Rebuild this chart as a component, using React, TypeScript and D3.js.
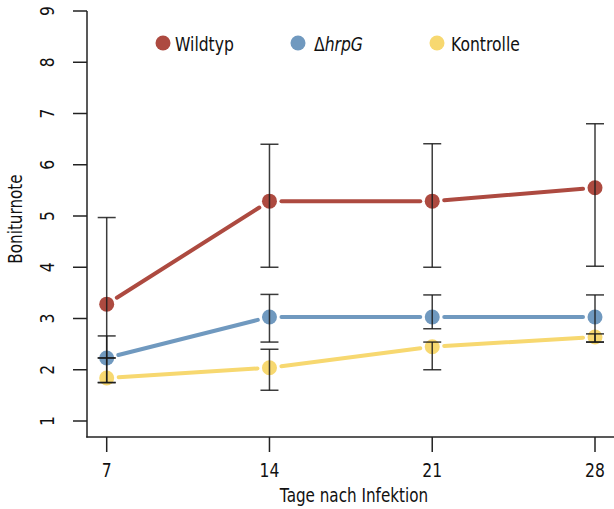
import React from "react";
import * as d3 from "d3";

const days = [7, 14, 21, 28];
const yTicks = [1, 2, 3, 4, 5, 6, 7, 8, 9];
const seriesNames = ["Wildtyp", "ΔhrpG", "Kontrolle"];
const seriesColors = ["#ad4a40", "#7099bf", "#f7d870"];
const wildtypMean = [3.28, 5.29, 5.29, 5.55];
const wildtypLow = [1.75, 4.0, 4.0, 4.02];
const wildtypHigh = [4.97, 6.4, 6.41, 6.8];
const hrpMean = [2.23, 3.03, 3.03, 3.03];
const hrpLow = [2.23, 2.54, 2.8, 2.54];
const hrpHigh = [2.66, 3.47, 3.46, 3.46];
const kontrolleMean = [1.84, 2.04, 2.45, 2.64];
const kontrolleLow = [1.75, 1.6, 2.0, 2.54];
const kontrolleHigh = [2.23, 2.4, 2.54, 2.7];

const FONT = "'DejaVu Sans', sans-serif";
const SX = 0.8;

function CText(props: { x: number; y: number; rotate?: number; anchor?: string; size: number; children: React.ReactNode }) {
  const { x, y, rotate = 0, anchor = "start", size, children } = props;
  return (
    <text
      transform={`translate(${x},${y}) rotate(${rotate}) scale(${SX},1)`}
      textAnchor={anchor}
      fontSize={size}
      fill="#111"
    >
      {children}
    </text>
  );
}

export default function App() {
  const W = 614, H = 509;
  const x = d3.scaleLinear().domain([7, 28]).range([106.7, 595]);
  const y = d3.scaleLinear().domain([1, 9]).range([421, 11]);
  const series = [
    { mean: wildtypMean, low: wildtypLow, high: wildtypHigh },
    { mean: hrpMean, low: hrpLow, high: hrpHigh },
    { mean: kontrolleMean, low: kontrolleLow, high: kontrolleHigh },
  ];
  const gap = 12;
  const r = 7.5;
  const cap = 9;

  const segments = (vals: number[]) => {
    const out: [number, number, number, number][] = [];
    for (let i = 0; i < vals.length - 1; i++) {
      const x1 = x(days[i]), y1 = y(vals[i]);
      const x2 = x(days[i + 1]), y2 = y(vals[i + 1]);
      const dx = x2 - x1, dy = y2 - y1;
      const len = Math.hypot(dx, dy);
      const ux = dx / len, uy = dy / len;
      out.push([x1 + ux * gap, y1 + uy * gap, x2 - ux * gap, y2 - uy * gap]);
    }
    return out;
  };

  const legendPos = [
    { cx: 163, tx: 175 },
    { cx: 298, tx: 314 },
    { cx: 437, tx: 451 },
  ];

  return (
    <svg width={W} height={H} style={{ position: "absolute", left: 0, top: 0 }} fontFamily={FONT}>
      <rect width={W} height={H} fill="white" />
      {/* axes */}
      <line x1={87} y1={y(9)} x2={87} y2={437.5} stroke="#222" strokeWidth={1.5} />
      <line x1={86.25} y1={437} x2={614} y2={437} stroke="#222" strokeWidth={1.5} />
      {yTicks.map((t) => (
        <g key={t}>
          <line x1={73} x2={87} y1={y(t)} y2={y(t)} stroke="#222" strokeWidth={1.5} />
          <CText x={54} y={y(t)} rotate={-90} anchor="middle" size={19.5}>
            {t}
          </CText>
        </g>
      ))}
      {days.map((d) => (
        <g key={d}>
          <line x1={x(d)} x2={x(d)} y1={437} y2={452} stroke="#222" strokeWidth={1.5} />
          <CText x={x(d)} y={477} anchor="middle" size={19.5}>
            {d}
          </CText>
        </g>
      ))}
      <CText x={354} y={502} anchor="middle" size={19}>
        Tage nach Infektion
      </CText>
      <CText x={22} y={219} rotate={-90} anchor="middle" size={19}>
        Boniturnote
      </CText>

      {/* lines */}
      {series.map((s, si) =>
        segments(s.mean).map((sg, i) => (
          <line
            key={`l${si}-${i}`}
            x1={sg[0]}
            y1={sg[1]}
            x2={sg[2]}
            y2={sg[3]}
            stroke={seriesColors[si]}
            strokeWidth={4}
            strokeLinecap="round"
          />
        ))
      )}
      {/* points */}
      {series.map((s, si) =>
        s.mean.map((v, i) => (
          <circle key={`p${si}-${i}`} cx={x(days[i])} cy={y(v)} r={r} fill={seriesColors[si]} />
        ))
      )}
      {/* error bars */}
      {series.map((s, si) =>
        days.map((d, i) => (
          <g key={`e${si}-${i}`} stroke="#1a1a1a" strokeWidth={1.5} strokeOpacity={0.85}>
            <line x1={x(d)} x2={x(d)} y1={y(s.low[i])} y2={y(s.high[i])} />
            <line x1={x(d) - cap} x2={x(d) + cap} y1={y(s.low[i])} y2={y(s.low[i])} />
            <line x1={x(d) - cap} x2={x(d) + cap} y1={y(s.high[i])} y2={y(s.high[i])} />
          </g>
        ))
      )}

      {/* legend */}
      {seriesNames.map((n, i) => (
        <g key={n}>
          <circle cx={legendPos[i].cx} cy={43} r={7.5} fill={seriesColors[i]} />
          <CText x={legendPos[i].tx} y={51} size={19.5}>
            {i === 1 ? (
              <>
                <tspan>Δ</tspan>
                <tspan fontStyle="italic">hrpG</tspan>
              </>
            ) : (
              n
            )}
          </CText>
        </g>
      ))}
    </svg>
  );
}
